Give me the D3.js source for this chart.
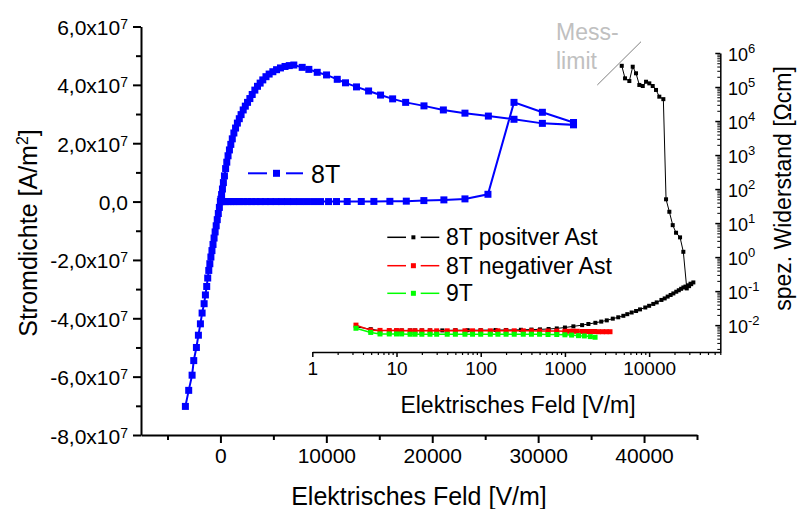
<!DOCTYPE html>
<html><head><meta charset="utf-8">
<script src="https://cdn.jsdelivr.net/npm/d3@7"></script>
<style>
body{margin:0;background:#fff;}
svg{display:block;}
text{font-family:"Liberation Sans",Arial,sans-serif;fill:#000;}
</style></head><body>
<svg id="c" width="798" height="509"></svg>
<script>
// ---------- main chart: 8T current density vs field ----------
const blueE = [
 -3308,-2996,-2675,-2520,-2268,-2080,-1890,-1730,-1540,-1418,-1295,-1200,-1100,-1000,-900,-800,-700,-600,-500,-400,-300,-200,-100,0,
 100,280,470,710,950,1230,1510,1840,2170,2550,2930,3350,3780,4250,4730,5250,5770,6330,6900,7510,8130,8790,9450,10210,10960,11970,13300,14490,16000,17550,19210,21100,23090,25260,
 27720,30400,33340,33340,30400,27720,25300,23090,21050,19220,17490,16260,15120,13990,12850,11810,11030,10020,9140,8350,7720,6930,
 6500,6100,5670,5300,4950,4600,4300,4000,3750,3500,3250,3000,2780,2560,2350,2150,1950,1780,1600,1430,1270,1120,980,850,720,600,490,380,280,190,110,40,0
];
const blueJ = [
 -7.02e7,-6.47e7,-5.95e7,-5.45e7,-5.00e7,-4.58e7,-4.19e7,-3.82e7,-3.50e7,-3.20e7,-2.91e7,-2.62e7,-2.36e7,-2.13e7,-1.90e7,-1.68e7,-1.47e7,-1.25e7,-1.04e7,-0.83e7,-0.62e7,-0.41e7,-0.20e7,0,
 0,0,0,0,0,0,0,0,0,0,0,0,0,0,0,0,0,0,0,0,0,0,0,0,0.001e7,0.002e7,0.003e7,0.005e7,0.008e7,0.014e7,0.034e7,0.058e7,0.092e7,0.25e7,
 3.40e7,3.06e7,2.71e7,2.63e7,2.68e7,2.82e7,2.93e7,3.03e7,3.14e7,3.28e7,3.40e7,3.52e7,3.65e7,3.79e7,3.93e7,4.07e7,4.19e7,4.34e7,4.43e7,4.53e7,4.60e7,4.68e7,
 4.66e7,4.63e7,4.58e7,4.52e7,4.45e7,4.37e7,4.28e7,4.17e7,4.06e7,3.95e7,3.82e7,3.67e7,3.53e7,3.40e7,3.27e7,3.14e7,2.98e7,2.84e7,2.69e7,2.52e7,2.35e7,2.15e7,1.96e7,1.77e7,1.57e7,1.35e7,1.13e7,0.88e7,0.65e7,0.43e7,0.24e7,0.08e7,0
];
const mainXTicks = [0,10000,20000,30000,40000];
const mainXMinor = [-5000,5000,15000,25000,35000,45000];
const mainYTicks = [6e7,4e7,2e7,0,-2e7,-4e7,-6e7,-8e7];
const mainYMinor = [5e7,3e7,1e7,-1e7,-3e7,-5e7,-7e7];

// ---------- inset: specific resistance vs field (log-log) ----------
const posE = [4730,5175,5820,6385,6985,7650,8400,9190,10050,11030,12070,13210,14750,15880,17380,19060,20870,23290,25480,27980,29800,31600,33500,
 31000,29000,27000,25500,24000,22500,21000,19400,18000,16600,15300,14000,12300,11200,10000,9000,7800,7000,6200,5500,4940,4300,3700,3140,2700,2300,1900,1600,1260,1000,800,640,506,400,300,200,150,100,70,50,35,25,20,16.6,14.5,11.5,10,8.2,6.37,4.94,3.3];
const posR = [4.2e5,1.8e5,1.5e5,3.95e5,2.53e5,1.15e5,1.07e5,1.43e5,1.28e5,1.07e5,8.2e4,5.2e4,4.4e4,50,21.5,8.7,5.2,3.8,1.43,0.12,0.14,0.16,0.18,
 0.165,0.148,0.136,0.128,0.117,0.106,0.096,0.0855,0.077,0.069,0.061,0.055,0.0466,0.042,0.037,0.033,0.029,0.026,0.0235,0.021,0.0188,0.0170,0.0155,0.0138,0.0127,0.0117,0.0108,0.0100,0.0092,0.0085,0.0080,0.0077,0.0075,0.0074,0.0073,0.0072,0.0072,0.0071,0.0071,0.0071,0.0070,0.0070,0.0070,0.0070,0.0070,0.0070,0.0070,0.0070,0.0069,0.0076,0.0089];
const negE = [3.3,4.94,6.37,8.2,10,11.5,14.5,16.6,20,25,30,40,50,65,80,100,130,160,200,250,320,400,500,630,800,1000,1120,1250,1400,1600,1800,2000,2250,2500,2800,3100,3430];
const negR = [0.0100,0.0071,0.0070,0.0069,0.0069,0.0068,0.0068,0.0068,0.0068,0.0068,0.0068,0.0068,0.0068,0.0068,0.0068,0.0068,0.0068,0.0068,0.0068,0.0068,0.0068,0.0068,0.0067,0.0067,0.0067,0.0066,0.0066,0.0066,0.0066,0.0065,0.0065,0.0065,0.0065,0.0064,0.0064,0.0064,0.0064];
const e9E = [3.3,4.94,6.37,8.2,10,11.5,14.5,16.6,20,25,30,40,50,65,80,100,130,160,200,250,320,400,500,630,800,1000,1200,1450,1700,2000,2280];
const e9R = [0.0081,0.0061,0.0055,0.0055,0.0055,0.0055,0.0054,0.0054,0.0054,0.0054,0.0054,0.0054,0.0054,0.0054,0.0054,0.0054,0.0054,0.0054,0.0054,0.0054,0.0054,0.0054,0.0054,0.0053,0.0053,0.0052,0.0051,0.0049,0.0048,0.0046,0.0044];
const insetXTicks = [1,10,100,1000,10000];
const insetYExp = [6,5,4,3,2,1,0,-1,-2];

const svg = d3.select("#c");
const FONT = '"Liberation Sans",Arial,sans-serif';

// scales
const xM = d3.scaleLinear().domain([-7500,45000]).range([141,697]);
const yM = d3.scaleLinear().domain([-8e7,6e7]).range([435,26.5]);
const xI = d3.scaleLog().domain([1,7e4]).range([312.3,720.3]);
const yI = d3.scaleLog().domain([Math.pow(10,-2.79),1e6]).range([352,53]);

function styleAxis(g, w){
  g.selectAll("path.domain").attr("stroke","#000").attr("stroke-width",w);
  g.selectAll(".tick line").attr("stroke","#000").attr("stroke-width",w);
}

// ---- main axes ----
const gx = svg.append("g").attr("transform","translate(0,435)")
  .call(d3.axisBottom(xM).tickValues(mainXTicks).tickSize(8).tickSizeOuter(0).tickPadding(5).tickFormat(d3.format("d")));
styleAxis(gx,2);
gx.selectAll("text").attr("font-size",21).attr("font-family",FONT).attr("fill","#000");
const gxm = svg.append("g").attr("transform","translate(0,435)")
  .call(d3.axisBottom(xM).tickValues(mainXMinor).tickSize(5).tickFormat(""));
gxm.select("path.domain").remove(); styleAxis(gxm,2);

const gy = svg.append("g").attr("transform","translate(141,0)")
  .call(d3.axisLeft(yM).tickValues(mainYTicks).tickSize(8).tickSizeOuter(0).tickFormat(""));
styleAxis(gy,2);
const gym = svg.append("g").attr("transform","translate(141,0)")
  .call(d3.axisLeft(yM).tickValues(mainYMinor).tickSize(5).tickFormat(""));
gym.select("path.domain").remove(); styleAxis(gym,2);

mainYTicks.forEach(v=>{
  const t = svg.append("text").attr("x",128).attr("y",yM(v)+8.5)
    .attr("text-anchor","end").attr("font-size",21);
  if(v===0){ t.text("0,0"); return; }
  const m = (v/1e7).toFixed(1).replace(".",",");
  t.append("tspan").text(m+"x10");
  t.append("tspan").attr("font-size",14).attr("dy",-6).text("7");
});

// main titles
svg.append("text").attr("x",419).attr("y",505).attr("text-anchor","middle")
  .attr("font-size",25).text("Elektrisches Feld [V/m]");
const yt = svg.append("text").attr("transform","translate(37,233) rotate(-90)")
  .attr("text-anchor","middle").attr("font-size",25);
yt.append("tspan").text("Stromdichte [A/m");
yt.append("tspan").attr("font-size",16).attr("dy",-9).text("2");
yt.append("tspan").attr("dy",9).text("]");

// main series
const mainPts = blueE.map((e,i)=>[e,blueJ[i]]);
svg.append("path").datum(mainPts)
  .attr("d", d3.line().x(d=>xM(d[0])).y(d=>yM(d[1])))
  .attr("fill","none").attr("stroke","#0000ff").attr("stroke-width",2);
svg.append("g").selectAll("rect").data(mainPts).join("rect")
  .attr("x",d=>xM(d[0])-3.5).attr("y",d=>yM(d[1])-3.5)
  .attr("width",7).attr("height",7).attr("fill","#0000ff");

// main legend
svg.append("line").attr("x1",248).attr("x2",267).attr("y1",173.3).attr("y2",173.3).attr("stroke","#0000ff").attr("stroke-width",2);
svg.append("line").attr("x1",286).attr("x2",303).attr("y1",173.3).attr("y2",173.3).attr("stroke","#0000ff").attr("stroke-width",2);
svg.append("rect").attr("x",276.5-3.5).attr("y",173.3-3.5).attr("width",7).attr("height",7).attr("fill","#0000ff");
svg.append("text").attr("x",311).attr("y",183).attr("font-size",25).text("8T");

// ---- inset axes ----
const gix = svg.append("g").attr("transform","translate(0,352)")
  .call(d3.axisBottom(xI).tickValues(insetXTicks).tickSize(5).tickSizeOuter(0).tickPadding(5).tickFormat(d3.format("d")));
styleAxis(gix,1.5);
gix.selectAll("text").attr("font-size",19).attr("font-family",FONT).attr("fill","#000");
const ixMinor = [];
for(let k=0;k<5;k++) for(let m=2;m<=9;m++){ const v=m*Math.pow(10,k); if(v<=7e4) ixMinor.push(v); }
const gixm = svg.append("g").attr("transform","translate(0,352)")
  .call(d3.axisBottom(xI).tickValues(ixMinor).tickSize(3).tickFormat(""));
gixm.select("path.domain").remove(); styleAxis(gixm,1.2);

const giy = svg.append("g").attr("transform","translate(720.3,0)")
  .call(d3.axisRight(yI).tickValues(insetYExp.map(e=>Math.pow(10,e))).tickSize(-5).tickSizeOuter(0).tickFormat(""));
styleAxis(giy,1.5);
const iyMinor = [];
for(let k=-3;k<6;k++) for(let m=2;m<=9;m++){ const v=m*Math.pow(10,k); if(v>=Math.pow(10,-2.79) && v<=1e6) iyMinor.push(v); }
const giym = svg.append("g").attr("transform","translate(720.3,0)")
  .call(d3.axisRight(yI).tickValues(iyMinor).tickSize(-3).tickFormat(""));
giym.select("path.domain").remove(); styleAxis(giym,1);

insetYExp.forEach(e=>{
  const t = svg.append("text").attr("x",728).attr("y",yI(Math.pow(10,e))+8.3).attr("font-size",18);
  t.append("tspan").text("10");
  t.append("tspan").attr("font-size",13).attr("dy",-8.5).text(String(e).replace("-","-"));
});

svg.append("text").attr("x",518).attr("y",413).attr("text-anchor","middle")
  .attr("font-size",23).text("Elektrisches Feld [V/m]");
svg.append("text").attr("transform","translate(791,188.5) rotate(-90)")
  .attr("text-anchor","middle").attr("font-size",23).text("spez. Widerstand [\u03A9cm]");

// inset series
function series(E,R,color,size,lw){
  const pts = E.map((e,i)=>[e,R[i]]);
  svg.append("path").datum(pts)
    .attr("d", d3.line().x(d=>xI(d[0])).y(d=>yI(d[1])))
    .attr("fill","none").attr("stroke",color).attr("stroke-width",lw);
  svg.append("g").selectAll("rect").data(pts).join("rect")
    .attr("x",d=>xI(d[0])-size/2).attr("y",d=>yI(d[1])-size/2)
    .attr("width",size).attr("height",size).attr("fill",color);
}
series(posE,posR,"#000000",4,1);
series(negE,negR,"#ff0000",5,1.5);
series(e9E,e9R,"#00ff00",5,1.5);

// inset legend
const legItems = [["8T positver Ast","#000000",4,237.3],["8T negativer Ast","#ff0000",5,265.7],["9T","#00ff00",5,293.3]];
legItems.forEach(([lab,col,sz,y])=>{
  svg.append("line").attr("x1",387.3).attr("x2",406).attr("y1",y).attr("y2",y).attr("stroke",col).attr("stroke-width",1.5);
  svg.append("line").attr("x1",420.7).attr("x2",439.3).attr("y1",y).attr("y2",y).attr("stroke",col).attr("stroke-width",1.5);
  svg.append("rect").attr("x",413.4-sz/2).attr("y",y-sz/2).attr("width",sz).attr("height",sz).attr("fill",col);
  svg.append("text").attr("x",446).attr("y",y+8).attr("font-size",23).text(lab);
});

// Messlimit annotation
svg.append("text").attr("x",556).attr("y",40).attr("font-size",23).style("fill","#c0c0c0").text("Mess-");
svg.append("text").attr("x",556).attr("y",69).attr("font-size",23).style("fill","#c0c0c0").text("limit");
svg.append("line").attr("x1",597.3).attr("y1",85).attr("x2",641).attr("y2",41.7).attr("stroke","#808080").attr("stroke-width",1);
</script>
</body></html>
